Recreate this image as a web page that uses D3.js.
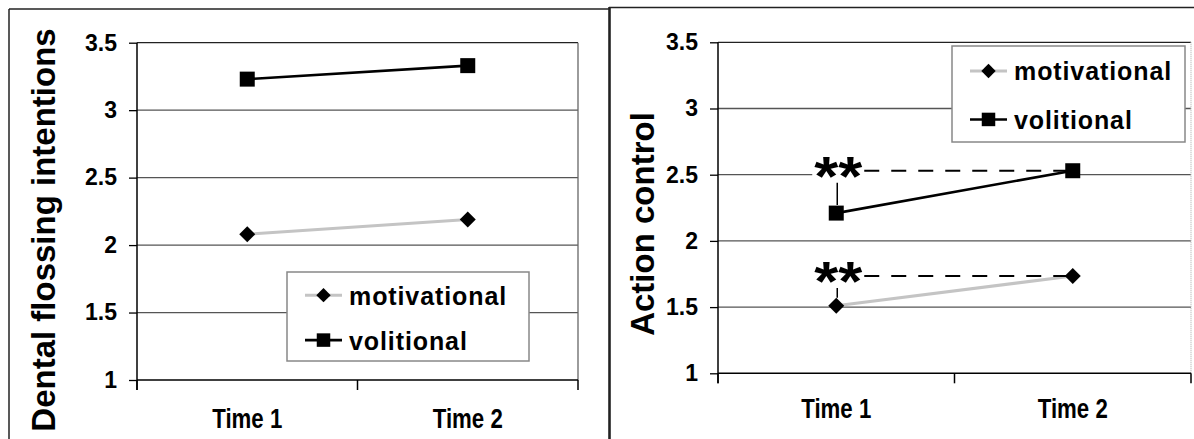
<!DOCTYPE html>
<html><head><meta charset="utf-8">
<script src="https://cdn.jsdelivr.net/npm/d3@7"></script>
<style>
html,body{margin:0;padding:0;background:#fff;}
svg{display:block;font-family:"Liberation Sans",Arial,sans-serif;}
</style></head>
<body>
<svg id="chart" width="1194" height="439"></svg>
<script>
// ---- data ----
const categories = ["Time 1", "Time 2"];
const seriesNames = ["motivational", "volitional"];
const intentionsMotivational = [2.08, 2.19];
const intentionsVolitional = [3.23, 3.33];
const actionMotivational = [1.51, 1.735];
const actionVolitional = [2.21, 2.53];
const yTicks = [1, 1.5, 2, 2.5, 3, 3.5];
const yTickLabels = ["1", "1.5", "2", "2.5", "3", "3.5"];
const yTitles = ["Dental flossing intentions", "Action control"];
const significanceLabel = "**";

const svg = d3.select("#chart");

// outer frames
const frame = svg.append("g").attr("stroke", "#222").attr("fill", "none");
frame.append("line").attr("x1", 9).attr("x2", 9).attr("y1", 9).attr("y2", 439).attr("stroke-width", 1.5);
frame.append("line").attr("x1", 9).attr("x2", 610).attr("y1", 9).attr("y2", 9).attr("stroke-width", 1.5);
frame.append("line").attr("x1", 609.5).attr("x2", 609.5).attr("y1", 7).attr("y2", 439).attr("stroke-width", 2.6);
frame.append("line").attr("x1", 609).attr("x2", 1194).attr("y1", 7.5).attr("y2", 7.5).attr("stroke-width", 1.5);

const panels = [
  { title: yTitles[0], mot: intentionsMotivational, vol: intentionsVolitional,
    left: 137, right: 578, top: 42.7, bottom: 380, labelPad: 29, titleX: 55, titleY: 230,
    rightBorder: "solid", legend: { x: 287, y: 272, w: 242, h: 89 }, annotate: false },
  { title: yTitles[1], mot: actionMotivational, vol: actionVolitional,
    left: 718, right: 1191, top: 42.3, bottom: 373.3, labelPad: 26, titleX: 654, titleY: 224,
    rightBorder: "dotted", legend: { x: 952, y: 46, w: 233, h: 96 }, annotate: true }
];

const styles = {
  motivational: { color: "#c4c4c4", width: 3, symbol: "diamond" },
  volitional: { color: "#000", width: 2.6, symbol: "square" }
};

function marker(g, type, cx, cy, scale) {
  if (type === "square") {
    g.append("path").attr("d", d3.symbol(d3.symbolSquare, 225 * scale * scale)())
      .attr("transform", `translate(${cx},${cy})`).attr("fill", "#000");
  } else {
    g.append("path").attr("d", d3.symbol(d3.symbolSquare, 128 * scale * scale)())
      .attr("transform", `translate(${cx},${cy}) rotate(45)`).attr("fill", "#000");
  }
}

panels.forEach(p => {
  const g = svg.append("g");
  const x = d3.scaleBand().domain(categories).range([p.left, p.right]);
  const cx = c => x(c) + x.bandwidth() / 2;
  const y = d3.scaleLinear().domain([1, 3.5]).range([p.bottom, p.top]);

  // gridlines
  g.append("g").selectAll("line").data(yTicks.filter(t => t > 1)).join("line")
    .attr("x1", p.left).attr("x2", p.right)
    .attr("y1", d => y(d)).attr("y2", d => y(d))
    .attr("stroke", d => d === 3.5 ? "#222" : "#555").attr("stroke-width", 1.3);

  // right border of plot area
  g.append("line").attr("x1", p.right).attr("x2", p.right).attr("y1", p.top).attr("y2", p.bottom)
    .attr("stroke", p.rightBorder === "solid" ? "#666" : "#bbb").attr("stroke-width", 1.3)
    .attr("stroke-dasharray", p.rightBorder === "solid" ? null : "1,1");

  // y axis
  const ya = g.append("g").attr("transform", `translate(${p.left},0)`)
    .call(d3.axisLeft(y).tickValues(yTicks).tickSize(8).tickSizeOuter(0).tickPadding(12)
      .tickFormat((d, i) => yTickLabels[i]));
  ya.select(".domain").remove();
  ya.selectAll("line").attr("stroke", "#000").attr("stroke-width", 1.3);
  ya.selectAll("text").attr("font-size", 23).attr("font-weight", "bold").attr("fill", "#000")
    .attr("font-family", "Liberation Sans, Arial, sans-serif");
  g.append("line").attr("x1", p.left).attr("x2", p.left).attr("y1", p.top).attr("y2", p.bottom + 10)
    .attr("stroke", "#000").attr("stroke-width", 1.5);

  // x axis
  const xa = g.append("g").attr("transform", `translate(0,${p.bottom})`)
    .call(d3.axisBottom(x).tickSize(0).tickPadding(p.labelPad));
  xa.select(".domain").remove();
  xa.selectAll("text").attr("font-size", 27).attr("font-weight", "bold").attr("fill", "#000")
    .attr("font-family", "Liberation Sans, Arial, sans-serif")
    .attr("textLength", 70).attr("lengthAdjust", "spacingAndGlyphs");
  g.append("line").attr("x1", p.left).attr("x2", p.right).attr("y1", p.bottom).attr("y2", p.bottom)
    .attr("stroke", "#000").attr("stroke-width", 1.5);
  const bounds = categories.map(c => x(c)).concat([p.right]);
  g.append("g").selectAll("line").data(bounds).join("line")
    .attr("x1", d => d).attr("x2", d => d).attr("y1", p.bottom).attr("y2", p.bottom + 10)
    .attr("stroke", "#000").attr("stroke-width", 1.5);

  // y title
  g.append("text").text(p.title)
    .attr("transform", `translate(${p.titleX},${p.titleY}) rotate(-90)`)
    .attr("text-anchor", "middle").attr("font-size", 33).attr("font-weight", "bold").attr("fill", "#000");

  // annotation backgrounds (under series)
  const annG = g.append("g");
  if (p.annotate) {
    [["volitional", p.vol], ["motivational", p.mot]].forEach(([name, vals]) => {
      const x1 = cx(categories[0]), x2 = cx(categories[1]);
      const yl = y(vals[1]);
      annG.append("rect").attr("x", x1 - 24).attr("y", yl - 13).attr("width", x2 - 6 - (x1 - 24)).attr("height", 21)
        .attr("fill", "#fff");
    });
  }

  // series
  const line = d3.line().x((d, i) => cx(categories[i])).y(d => y(d));
  [["motivational", p.mot], ["volitional", p.vol]].forEach(([name, vals]) => {
    const st = styles[name];
    g.append("path").attr("d", line(vals)).attr("fill", "none")
      .attr("stroke", st.color).attr("stroke-width", st.width);
    vals.forEach((v, i) => marker(g, st.symbol, cx(categories[i]), y(v), 1));
  });

  // annotations
  if (p.annotate) {
    [["volitional", p.vol], ["motivational", p.mot]].forEach(([name, vals]) => {
      const x1 = cx(categories[0]), x2 = cx(categories[1]);
      const yl = y(vals[1]), yp = y(vals[0]);
      g.append("text").text(significanceLabel)
        .attr("x", x1 + 2).attr("y", yl + 24).attr("text-anchor", "middle")
        .attr("font-size", 56).attr("font-weight", "bold").attr("fill", "#000")
        .attr("textLength", 48).attr("lengthAdjust", "spacingAndGlyphs");
      g.append("line").attr("x1", x1 + 28).attr("x2", x2 - 6).attr("y1", yl).attr("y2", yl)
        .attr("stroke", "#000").attr("stroke-width", 2.2).attr("stroke-dasharray", "15,12");
      g.append("line").attr("x1", x1 + 1).attr("x2", x1 + 1).attr("y1", yl + 12).attr("y2", yp - 8)
        .attr("stroke", "#000").attr("stroke-width", 1.5);
    });
  }

  // legend
  const L = p.legend;
  const lg = g.append("g");
  lg.append("rect").attr("x", L.x).attr("y", L.y).attr("width", L.w).attr("height", L.h)
    .attr("fill", "#fff").attr("stroke", "#888").attr("stroke-width", 1.5);
  const rowY = [L.y + L.h * 0.26, L.y + L.h * 0.765];
  seriesNames.forEach((name, i) => {
    const st = styles[name];
    const ry = rowY[i];
    lg.append("line").attr("x1", L.x + 18).attr("x2", L.x + 55).attr("y1", ry).attr("y2", ry)
      .attr("stroke", st.color).attr("stroke-width", st.width);
    marker(lg, st.symbol, L.x + 36.5, ry, 0.9);
    lg.append("text").text(name).attr("x", L.x + 62).attr("y", ry + 9.5)
      .attr("font-size", 25).attr("font-weight", "bold").attr("letter-spacing", 0.9).attr("fill", "#000");
  });
});
</script>
</body></html>
